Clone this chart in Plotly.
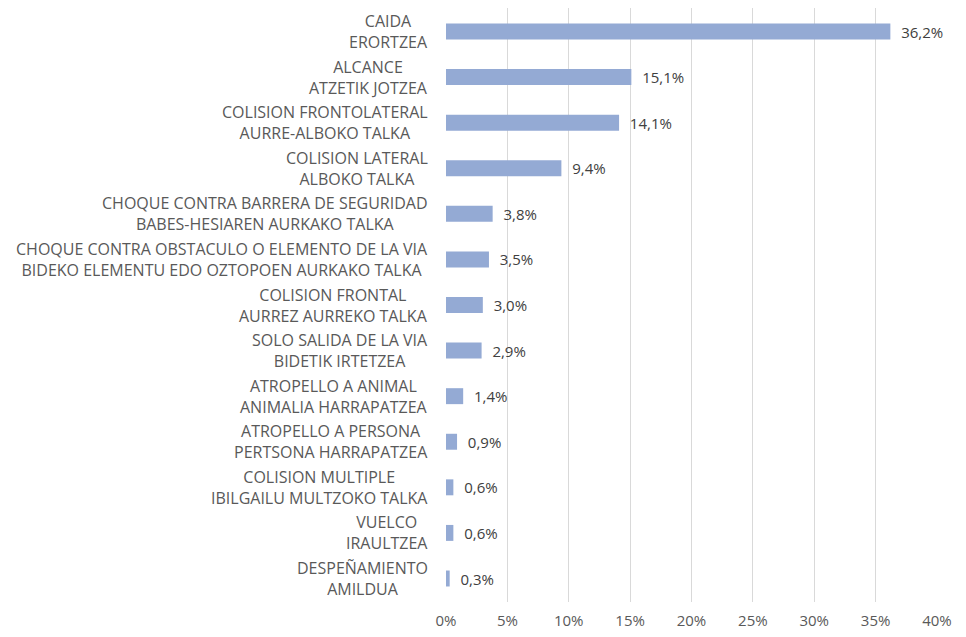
import plotly.graph_objects as go

labels_es = ["CAIDA", "ALCANCE", "COLISION FRONTOLATERAL", "COLISION LATERAL",
             "CHOQUE CONTRA BARRERA DE SEGURIDAD",
             "CHOQUE CONTRA OBSTACULO O ELEMENTO DE LA VIA",
             "COLISION FRONTAL", "SOLO SALIDA DE LA VIA", "ATROPELLO A ANIMAL",
             "ATROPELLO A PERSONA", "COLISION MULTIPLE", "VUELCO", "DESPEÑAMIENTO"]
labels_eu = ["ERORTZEA", "ATZETIK JOTZEA", "AURRE-ALBOKO TALKA", "ALBOKO TALKA",
             "BABES-HESIAREN AURKAKO TALKA",
             "BIDEKO ELEMENTU EDO OZTOPOEN AURKAKO TALKA",
             "AURREZ AURREKO TALKA", "BIDETIK IRTETZEA", "ANIMALIA HARRAPATZEA",
             "PERTSONA HARRAPATZEA", "IBILGAILU MULTZOKO TALKA", "IRAULTZEA", "AMILDUA"]
values = [36.2, 15.1, 14.1, 9.4, 3.8, 3.5, 3.0, 2.9, 1.4, 0.9, 0.6, 0.6, 0.3]
tick_vals = [0, 5, 10, 15, 20, 25, 30, 35, 40]
tick_text = ["0%", "5%", "10%", "15%", "20%", "25%", "30%", "35%", "40%"]

cats = [f"{a} / {b}" for a, b in zip(labels_es, labels_eu)]

FONT = "Open Sans"
fig = go.Figure(go.Bar(
    x=values, y=cats, orientation="h",
    marker=dict(color="#94AAD4", line=dict(width=0)),
    text=values,
    texttemplate="\u00a0\u00a0%{x:.1f}%",
    textposition="outside",
    constraintext="none",
    cliponaxis=False,
    textfont=dict(family=FONT, size=15, color="#404040"),
    hoverinfo="skip",
))

annotations = []
for c, a, b in zip(cats, labels_es, labels_eu):
    annotations.append(dict(
        x=0, xref="paper", y=c, yref="y",
        text=f"{a}<br>{b}", showarrow=False,
        xanchor="right", yanchor="middle", align="center",
        xshift=-16,
        font=dict(family=FONT, size=16, color="#595959"),
    ))

fig.update_layout(
    width=950, height=621,
    margin=dict(l=438, r=21, t=0, b=27, autoexpand=False),
    paper_bgcolor="white", plot_bgcolor="white",
    separators=",.",
    bargap=0.65,
    showlegend=False,
    annotations=annotations,
    xaxis=dict(range=[0, 40], tickvals=tick_vals, ticktext=tick_text,
               showgrid=True, gridcolor="#D9D9D9", gridwidth=1,
               zeroline=False, showline=False,
               ticks="outside", ticklen=5, tickcolor="rgba(0,0,0,0)",
               tickfont=dict(family=FONT, size=15, color="#595959")),
    yaxis=dict(autorange="reversed", showticklabels=False, showgrid=False,
               zeroline=False, showline=False),
)

fig.write_html("out.html")
